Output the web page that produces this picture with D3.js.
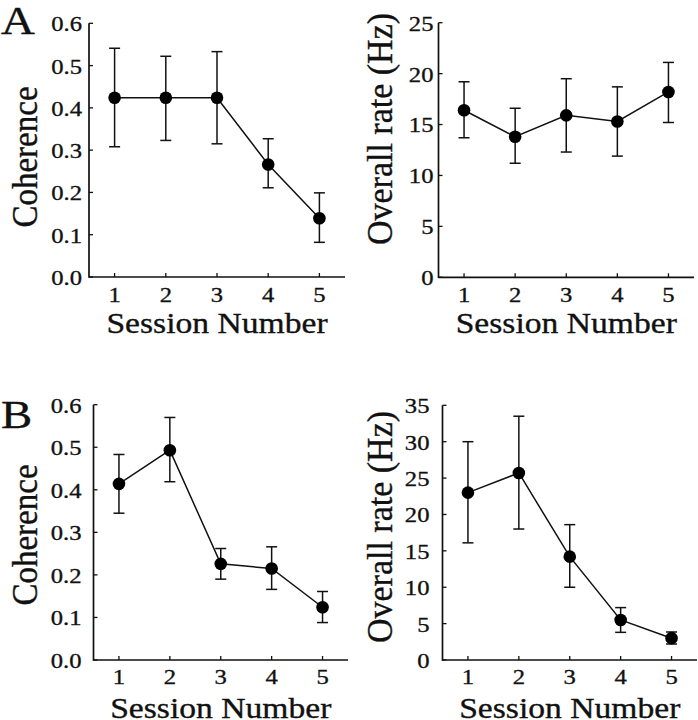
<!DOCTYPE html>
<html>
<head>
<meta charset="utf-8">
<script src="https://cdn.jsdelivr.net/npm/d3@7"></script>
<style>
  html, body { margin: 0; padding: 0; background: #fff; }
  svg { display: block; }
</style>
</head>
<body>
<script>
// ---- data ----
const sessions = [1, 2, 3, 4, 5];

const cohA      = [0.424, 0.424, 0.424, 0.266, 0.139];
const cohA_hi   = [0.541, 0.522, 0.533, 0.327, 0.199];
const cohA_lo   = [0.308, 0.323, 0.315, 0.211, 0.082];

const rateA     = [16.4, 13.8, 15.9, 15.3, 18.2];
const rateA_hi  = [19.2, 16.6, 19.5, 18.7, 21.1];
const rateA_lo  = [13.7, 11.2, 12.3, 11.9, 15.2];

const cohB      = [0.414, 0.493, 0.226, 0.215, 0.124];
const cohB_hi   = [0.483, 0.570, 0.262, 0.266, 0.161];
const cohB_lo   = [0.345, 0.419, 0.190, 0.166, 0.088];

const rateB     = [23.0, 25.7, 14.2, 5.5, 3.0];
const rateB_hi  = [30.0, 33.5, 18.6, 7.2, 3.85];
const rateB_lo  = [16.1, 18.0, 10.0, 3.8, 2.2];

const cohTicks  = [0, 0.1, 0.2, 0.3, 0.4, 0.5, 0.6];
const rateATicks = [0, 5, 10, 15, 20, 25];
const rateBTicks = [0, 5, 10, 15, 20, 25, 30, 35];

const xLabel = "Session Number";
const cohLabel = "Coherence";
const rateLabel = "Overall rate (Hz)";

// ---- drawing ----
const W = 698, H = 720;
const FONT = "'Liberation Serif', 'Times New Roman', Times, serif";
const SX = 1.12;   // horizontal stretch of the original figure's lettering
const INK = "#111";
const svg = d3.select("body").append("svg").attr("width", W).attr("height", H)
  .attr("font-family", FONT);

function styleText(sel, size) {
  return sel.attr("font-family", FONT).attr("font-size", size).attr("fill", INK)
    .attr("stroke", INK).attr("stroke-width", 0.35);
}

function panel(cfg) {
  const x = d3.scaleLinear().domain([0.5, 5.5]).range([cfg.x0, cfg.x1]);
  const y = d3.scaleLinear().domain([0, cfg.ymax]).range([cfg.y0, cfg.y1]);
  const g = svg.append("g");

  // axes lines
  g.append("line").attr("x1", cfg.x0).attr("x2", cfg.x0).attr("y1", cfg.y0 + 0.8).attr("y2", cfg.y1)
    .attr("stroke", INK).attr("stroke-width", 1.7);
  g.append("line").attr("x1", cfg.x0).attr("x2", cfg.x1).attr("y1", cfg.y0).attr("y2", cfg.y0)
    .attr("stroke", INK).attr("stroke-width", 1.7);

  // y ticks (inward)
  const yt = g.selectAll(".yt").data(cfg.yticks).enter().append("g");
  yt.append("line").attr("x1", cfg.x0).attr("x2", cfg.x0 + 4)
    .attr("y1", d => y(d)).attr("y2", d => y(d)).attr("stroke", INK).attr("stroke-width", 1.3);
  styleText(yt.append("text"), 22)
    .attr("transform", d => `translate(${cfg.x0 - cfg.ygap},${y(d)}) scale(${SX},1)`)
    .attr("dy", "0.36em").attr("text-anchor", "end").text(cfg.yfmt);

  // x ticks (inward)
  const xt = g.selectAll(".xt").data(sessions).enter().append("g");
  xt.append("line").attr("x1", d => x(d)).attr("x2", d => x(d))
    .attr("y1", cfg.y0).attr("y2", cfg.y0 - 4).attr("stroke", INK).attr("stroke-width", 1.3);
  styleText(xt.append("text"), 22)
    .attr("transform", d => `translate(${x(d)},${cfg.xtickBase}) scale(${SX},1)`)
    .attr("text-anchor", "middle").text(d => d);

  // axis labels
  styleText(g.append("text"), 30)
    .attr("transform", `translate(${(cfg.x0 + cfg.x1) / 2},${cfg.xlabBase}) scale(${SX},1)`)
    .attr("text-anchor", "middle").text(xLabel);
  styleText(g.append("text"), cfg.ylabSize)
    .attr("transform", `translate(${cfg.ylabX},${cfg.ylabY}) scale(1.06,1) rotate(-90)`)
    .attr("text-anchor", "middle").text(cfg.ylab);

  // line
  const line = d3.line().x((d, i) => x(sessions[i])).y(d => y(d));
  g.append("path").datum(cfg.vals).attr("d", line).attr("fill", "none")
    .attr("stroke", INK).attr("stroke-width", 1.5);

  // error bars
  const eb = g.selectAll(".eb").data(sessions).enter().append("g");
  eb.append("line").attr("x1", d => x(d)).attr("x2", d => x(d))
    .attr("y1", (d, i) => y(cfg.hi[i])).attr("y2", (d, i) => y(cfg.lo[i]))
    .attr("stroke", INK).attr("stroke-width", 1.5);
  ["hi", "lo"].forEach(k => {
    eb.append("line").attr("x1", d => x(d) - 5.5).attr("x2", d => x(d) + 5.5)
      .attr("y1", (d, i) => y(cfg[k][i])).attr("y2", (d, i) => y(cfg[k][i]))
      .attr("stroke", INK).attr("stroke-width", 1.5);
  });

  // points
  g.selectAll(".pt").data(cfg.vals).enter().append("circle")
    .attr("cx", (d, i) => x(sessions[i])).attr("cy", d => y(d)).attr("r", 6.3)
    .attr("fill", "#000");
}

const f1 = d3.format(".1f");
const f0 = d3.format("d");

panel({ x0: 89, x1: 345, y0: 277, y1: 23.3, ymax: 0.6, yticks: cohTicks, yfmt: f1, ygap: 7,
  vals: cohA, hi: cohA_hi, lo: cohA_lo, xtickBase: 302, xlabBase: 333,
  ylab: cohLabel, ylabX: 37, ylabY: 157, ylabSize: 33 });
panel({ x0: 438.5, x1: 694, y0: 277.3, y1: 22.7, ymax: 25, yticks: rateATicks, yfmt: f0, ygap: 5,
  vals: rateA, hi: rateA_hi, lo: rateA_lo, xtickBase: 302, xlabBase: 333,
  ylab: rateLabel, ylabX: 392, ylabY: 129, ylabSize: 34 });
panel({ x0: 93.5, x1: 348, y0: 660, y1: 404.7, ymax: 0.6, yticks: cohTicks, yfmt: f1, ygap: 12,
  vals: cohB, hi: cohB_hi, lo: cohB_lo, xtickBase: 684, xlabBase: 718,
  ylab: cohLabel, ylabX: 37, ylabY: 535, ylabSize: 33 });
panel({ x0: 442.5, x1: 697, y0: 660, y1: 405.3, ymax: 35, yticks: rateBTicks, yfmt: f0, ygap: 13,
  vals: rateB, hi: rateB_hi, lo: rateB_lo, xtickBase: 684, xlabBase: 718,
  ylab: rateLabel, ylabX: 392, ylabY: 527, ylabSize: 34 });

// panel letters
styleText(svg.append("text"), 39).attr("transform", `translate(1,34) scale(1.2,1)`).text("A");
styleText(svg.append("text"), 39).attr("transform", `translate(1,428) scale(1.2,1)`).text("B");
</script>
</body>
</html>
